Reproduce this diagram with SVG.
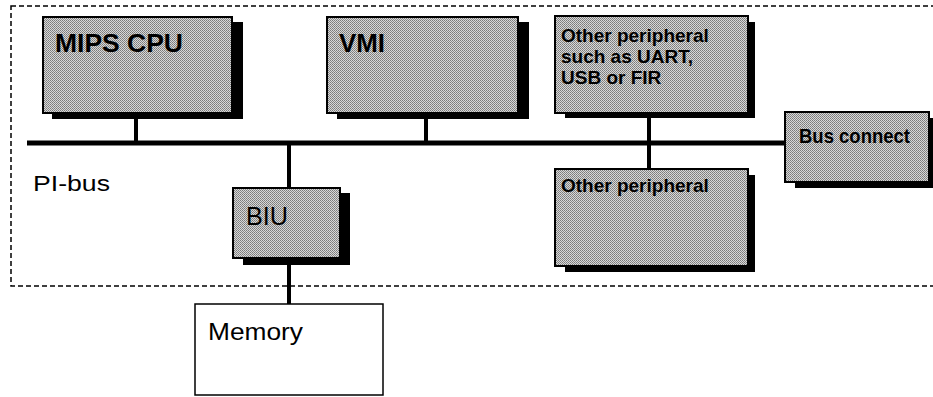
<svg xmlns="http://www.w3.org/2000/svg" width="933" height="397" viewBox="0 0 933 397">
<style>
.box{fill:url(#dith);stroke:#000;stroke-width:2}
.shadow{fill:#000}
.wire{stroke:#000;stroke-width:4;fill:none}
.bus{stroke:#000;stroke-width:5;fill:none}
.b{font-family:"Liberation Sans",Arial,sans-serif;font-weight:bold;fill:#000}
.r{font-family:"Liberation Sans",Arial,sans-serif;fill:#000}
</style>
<defs>
<pattern id="dith" width="2" height="2" patternUnits="userSpaceOnUse">
<rect width="2" height="2" fill="#d8d8d8"/>
<rect width="1" height="1" fill="#7a7a7a"/>
<rect x="1" y="1" width="1" height="1" fill="#8a8a8a"/>
</pattern>
</defs>
<rect x="11" y="6" width="930" height="280" fill="none" stroke="#000" stroke-width="1.5" stroke-dasharray="5,3"/>
<g id="connectors">
<line class="bus" x1="27" y1="143" x2="786" y2="143"/>
<line class="wire" x1="136" y1="113" x2="136" y2="143"/>
<line class="wire" x1="426" y1="113" x2="426" y2="143"/>
<line class="wire" x1="649" y1="113" x2="649" y2="169"/>
<line class="wire" x1="289" y1="143" x2="289" y2="188"/>
<line class="wire" x1="289" y1="258" x2="289" y2="304"/>
</g>
<g id="mips">
<rect class="shadow" x="52" y="22" width="191" height="97"/>
<rect class="box" x="43" y="17" width="189" height="96"/>
<text class="b" x="55" y="52" font-size="25" textLength="128" lengthAdjust="spacingAndGlyphs">MIPS CPU</text>
</g>
<g id="vmi">
<rect class="shadow" x="337" y="22" width="192" height="97"/>
<rect class="box" x="327" y="17" width="191" height="96"/>
<text class="b" x="339" y="52" font-size="25" textLength="46" lengthAdjust="spacingAndGlyphs">VMI</text>
</g>
<g id="periph1">
<rect class="shadow" x="565" y="22" width="190" height="96"/>
<rect class="box" x="555" y="16" width="193" height="97"/>
<text class="b" x="561" y="42" font-size="19">Other peripheral</text>
<text class="b" x="561" y="63" font-size="19">such as UART,</text>
<text class="b" x="561" y="84" font-size="19">USB or FIR</text>
</g>
<g id="busconnect">
<rect class="shadow" x="795" y="118" width="140" height="70"/>
<rect class="box" x="785" y="112" width="144" height="70"/>
<text class="b" x="799" y="143" font-size="21" textLength="111" lengthAdjust="spacingAndGlyphs">Bus connect</text>
</g>
<g id="periph2">
<rect class="shadow" x="565" y="175" width="190" height="97"/>
<rect class="box" x="555" y="169" width="193" height="97"/>
<text class="b" x="561" y="192" font-size="19">Other peripheral</text>
</g>
<g id="biu">
<rect class="shadow" x="243" y="193" width="107" height="72"/>
<rect class="box" x="233" y="188" width="107" height="70"/>
<text class="r" x="246" y="225" font-size="25" textLength="42" lengthAdjust="spacingAndGlyphs">BIU</text>
</g>
<g id="memory">
<rect x="195" y="304" width="188" height="91" fill="#fff" stroke="#000" stroke-width="1.5"/>
<text class="r" x="208" y="340" font-size="23" textLength="95" lengthAdjust="spacingAndGlyphs">Memory</text>
</g>
<text class="r" x="33" y="191" font-size="22" textLength="77" lengthAdjust="spacingAndGlyphs">PI-bus</text>
</svg>
